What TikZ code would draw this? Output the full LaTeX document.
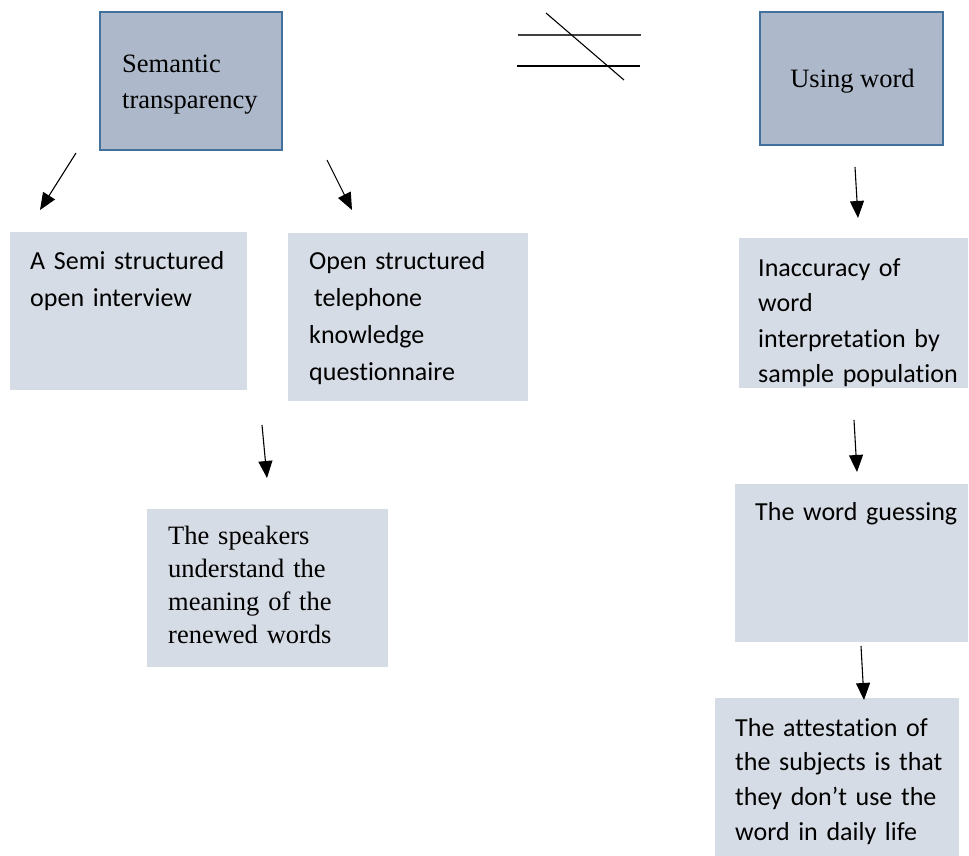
\documentclass[tikz,border=0pt]{standalone}
\usepackage{fontspec}
\setmainfont{Liberation Serif}
\newfontfamily\calibri[Ligatures=NoCommon]{Carlito}
\usetikzlibrary{arrows.meta}
\definecolor{boxDark}{HTML}{ADB9CA}
\definecolor{boxEdge}{HTML}{41719C}
\definecolor{boxLight}{HTML}{D6DCE5}

\tikzset{
    darkbox/.style={draw=boxEdge, line width=2pt, fill=boxDark, inner sep=0pt},
    lightbox/.style={fill=boxLight, inner sep=0pt},
    serif text/.style={font=\fontsize{26.5}{36}\selectfont, anchor=base west, align=left, text width=260pt, inner sep=0pt},
    sans text/.style={font=\calibri\fontsize{26}{37.3}\selectfont, anchor=base west, align=left, text width=260pt, inner sep=0pt},
    arr/.style={-{Triangle[length=17pt,width=14pt]}, line width=1.1pt}
}

\begin{document}
\begin{tikzpicture}[x=1pt, y=-1pt]
    \useasboundingbox (0,0) rectangle (969,856);

    % top boxes
    \node[darkbox, minimum width=182pt, minimum height=138pt] (sembox) at (191,81) {};
    \node[serif text] (semtext) at (122,72.5) {Semantic\\transparency};
    \node[darkbox, minimum width=183pt, minimum height=133pt] (usebox) at (851.5,78.5) {};
    \node[font=\fontsize{26.5}{36}\selectfont, inner sep=0pt, anchor=base] (usetext) at (852.5,88) {Using word};

    % not-equal sign
    \draw[line width=1.1pt, black!75] (518,35) -- (641,35);
    \draw[line width=1.1pt] (517,66) -- (640,66);
    \draw[line width=1.1pt] (546,13) -- (624,80);

    % left branch
    \node[lightbox, minimum width=237pt, minimum height=158pt] (semibox) at (128.5,311) {};
    \node[sans text] (semitext) at (30,269) {A Semi structured\\open interview};
    \node[lightbox, minimum width=240pt, minimum height=168pt] (openbox) at (408,317) {};
    \node[sans text] (opentext) at (309,269) {Open structured\\\hspace*{5pt}telephone\\knowledge\\questionnaire};
    \node[lightbox, minimum width=241pt, minimum height=158pt] (speakbox) at (267.5,588) {};
    \node[serif text, font=\fontsize{26.5}{33.3}\selectfont] (speaktext) at (168,544) {The speakers\\understand the\\meaning of the\\renewed words};

    % right branch
    \node[lightbox, minimum width=229pt, minimum height=150pt] (inacbox) at (853.5,313) {};
    \begin{scope}
        \clip (inacbox.south west) rectangle (inacbox.north east);
        \node[sans text, font=\calibri\fontsize{26}{35.5}\selectfont] (inactext) at (758,276) {Inaccuracy of\\word\\interpretation by\\sample population};
    \end{scope}
    \node[lightbox, minimum width=233pt, minimum height=158pt] (guessbox) at (851.5,563) {};
    \node[sans text] (guesstext) at (755,520) {The word guessing};
    \node[lightbox, minimum width=244pt, minimum height=158pt] (attestbox) at (837,777) {};
    \node[sans text, font=\calibri\fontsize{26}{34.7}\selectfont] (attesttext) at (735,736) {The attestation of\\the subjects is that\\they don’t use the\\word in daily life};

    % arrows
    \coordinate (a1s) at (76,153);  \coordinate (a1e) at (40,210);
    \coordinate (a2s) at (327,160); \coordinate (a2e) at (352,210);
    \coordinate (a3s) at (855,167); \coordinate (a3e) at (858,218);
    \coordinate (a4s) at (262,425); \coordinate (a4e) at (267,478);
    \coordinate (a5s) at (854,420); \coordinate (a5e) at (857,472);
    \coordinate (a6s) at (861,646); \coordinate (a6e) at (864,700);
    \foreach \i in {1,...,6}
        \draw[arr] (a\i s) -- (a\i e);
\end{tikzpicture}
\end{document}
